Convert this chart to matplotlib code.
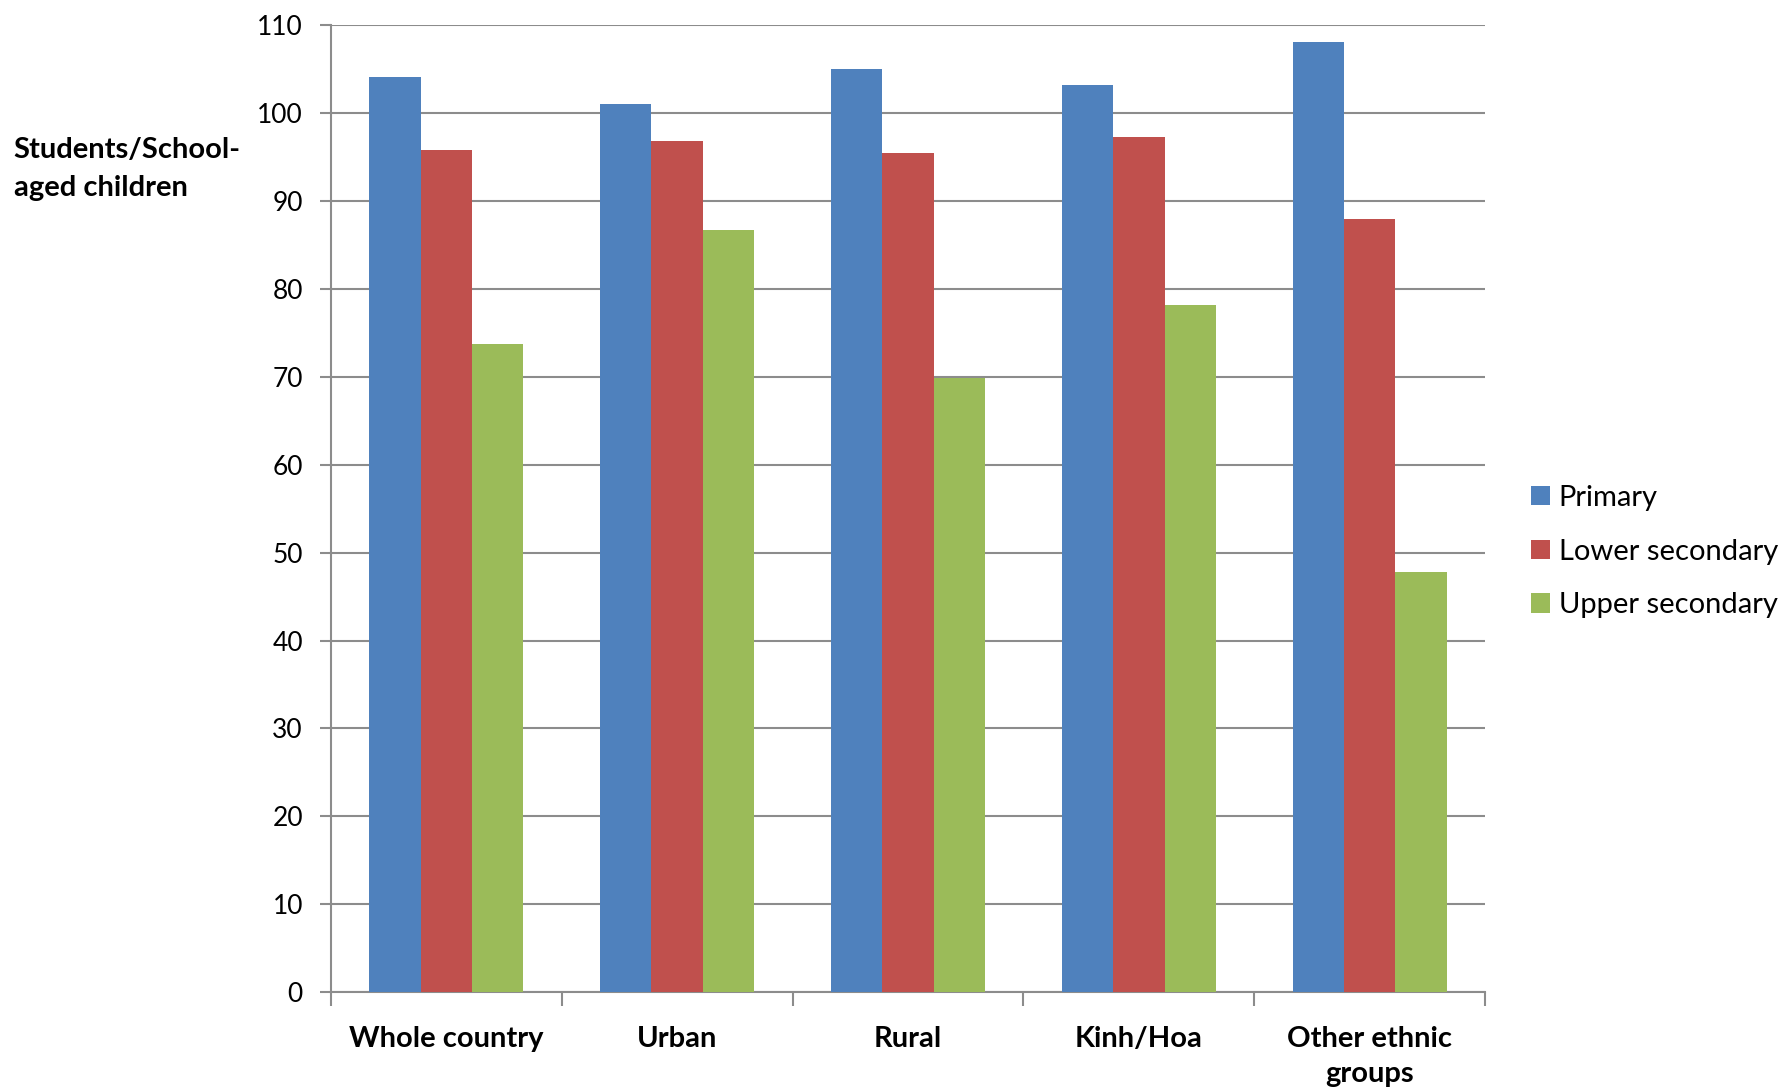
import numpy as np
import matplotlib.pyplot as plt

plt.rcParams['font.family'] = ['Lato', 'DejaVu Sans']

categories = ["Whole country", "Urban", "Rural", "Kinh/Hoa", "Other ethnic\ngroups"]
primary = [104.1, 101.0, 105.0, 103.2, 108.1]
lower_secondary = [95.8, 96.8, 95.5, 97.3, 87.9]
upper_secondary = [73.7, 86.7, 69.9, 78.2, 47.8]

series = [("Primary", primary, "#4F81BD"),
          ("Lower secondary", lower_secondary, "#C0504D"),
          ("Upper secondary", upper_secondary, "#9BBB59")]

fig = plt.figure(figsize=(17.82, 10.9), dpi=100)
ax = fig.add_axes([0.1856, 0.0897, 0.6479, 0.8873])

x = np.arange(len(categories))
w = 0.222
for i, (name, vals, col) in enumerate(series):
    ax.bar(x + (i - 1) * w, vals, width=w, color=col, label=name, zorder=3)

ax.set_xlim(-0.5, len(categories) - 0.5)
ax.set_ylim(0, 110)
ax.set_yticks(range(0, 111, 10))
ax.yaxis.grid(True, color="#8c8c8c", linewidth=1.5, zorder=0)

grey = "#8c8c8c"
for s in ["top", "right"]:
    ax.spines[s].set_visible(False)
for s in ["left", "bottom"]:
    ax.spines[s].set_color(grey)
    ax.spines[s].set_linewidth(1.5)

ax.set_xticks(np.arange(-0.5, len(categories), 1.0))
ax.set_xticklabels([])
ax.set_xticks(x, minor=True)
ax.set_xticklabels(categories, minor=True, fontsize=21, fontweight="bold",
                   linespacing=1.45)
ax.tick_params(axis="x", which="major", length=10, width=1.5, color=grey)
ax.tick_params(axis="x", which="minor", length=0, pad=24)
ax.tick_params(axis="y", length=8, width=1.5, color=grey, labelsize=19, pad=12)

fig.text(0.0077, 0.874, "Students/School-\naged children", fontsize=21,
         fontweight="bold", ha="left", va="top", linespacing=1.55)

fig.legend(loc="center left", bbox_to_anchor=(0.8525, 0.494), frameon=False,
           fontsize=21, handlelength=0.65, handleheight=0.65, handletextpad=0.3,
           labelspacing=0.95, borderaxespad=0.0)

fig.savefig("out.png", dpi=100)
